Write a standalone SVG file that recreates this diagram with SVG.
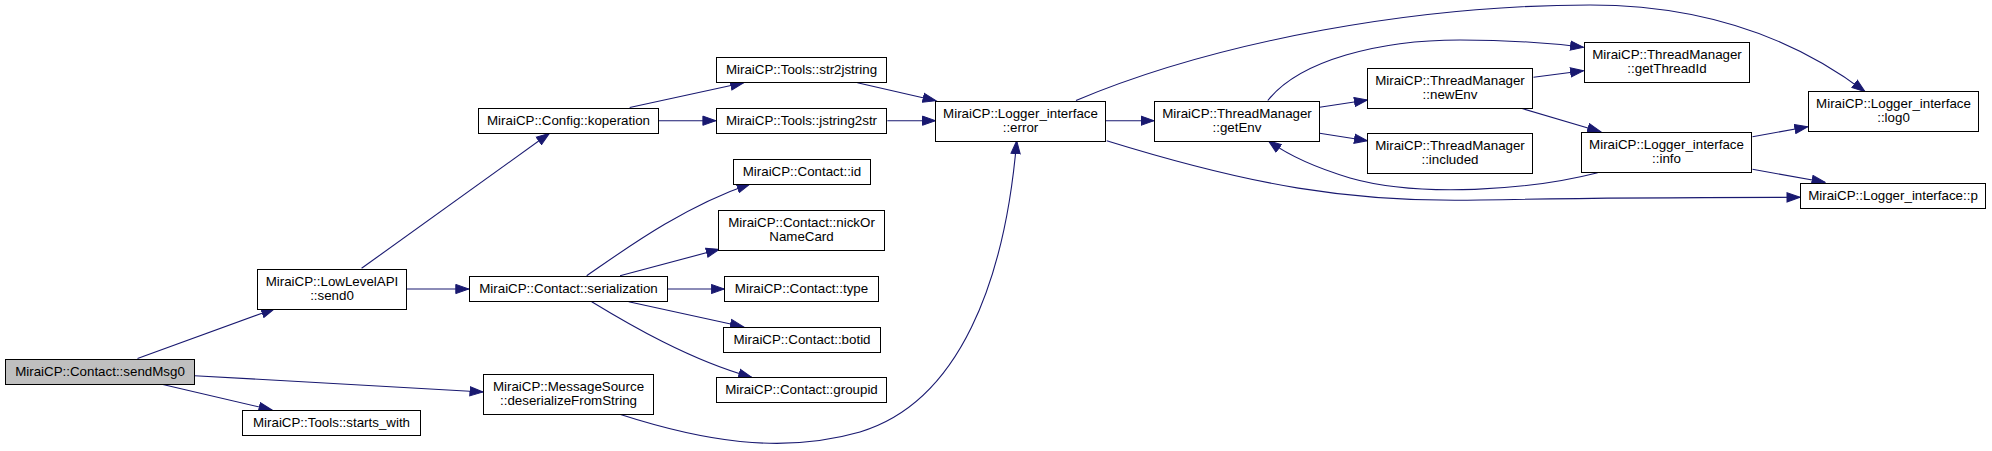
<svg xmlns="http://www.w3.org/2000/svg" width="1992" height="451" viewBox="0 0 1992 451">
<defs>
<style>
.n rect{fill:#ffffff;stroke:#000000;stroke-width:1}
.n.root rect{fill:#bfbfbf}
.n text{font-family:"Liberation Sans",Arial,Helvetica,sans-serif;font-size:13.33px;fill:#000000;text-anchor:middle}
.e path{fill:none;stroke:#191970;stroke-width:1.1;marker-end:url(#ah)}
</style>
<marker id="ah" markerUnits="userSpaceOnUse" markerWidth="15" markerHeight="11" refX="13.5" refY="5" orient="auto" viewBox="0 0 15 10">
<path d="M0.5,0.4 L13.5,5 L0.5,9.6 z" fill="#191970" stroke="#191970" stroke-width="1"/>
</marker>
</defs>
<rect x="0" y="0" width="1992" height="451" fill="#ffffff"/>
<g id="edges" class="e">
<path d="M137.5,358.5 L274.5,308.7"/>
<path d="M194.6,375.7 L483,392"/>
<path d="M160.7,384 L272,410"/>
<path d="M361.6,268.3 L549.4,133.3"/>
<path d="M406,289 L468.8,289"/>
<path d="M629.7,107.5 L743.6,82.7"/>
<path d="M658.8,120.7 L715.9,120.7"/>
<path d="M857.4,82.7 L936,100.7"/>
<path d="M887.3,120.7 L935.5,120.7"/>
<path d="M586.7,275.7 C620,253 680,208 750,184"/>
<path d="M620,275.7 L719.3,249.3"/>
<path d="M668,289 L724.3,289"/>
<path d="M628.7,301.7 L743.3,326.7"/>
<path d="M591.7,301.7 C630,325 690,360 751.7,377.3"/>
<path d="M620.5,414.5 C700,440 780,455 860,432 C960,402 1005,280 1016.7,140.7"/>
<path d="M1106,120.7 L1154,120.7"/>
<path d="M1076,100.5 C1220,40 1420,5 1590,5 C1700,5 1790,35 1865,91.7"/>
<path d="M1106.7,140.7 C1250,185 1350,203 1480,200 C1600,197.5 1700,197.5 1800,197.3"/>
<path d="M1319.6,107.3 L1367.4,100"/>
<path d="M1267.8,100.5 C1300,60 1380,40 1460,40 C1510,40 1550,43 1583.5,47.3"/>
<path d="M1319.6,133.3 L1367.4,140.7"/>
<path d="M1533.5,77.3 L1583.5,70.7"/>
<path d="M1518,107.3 L1600.6,131.7"/>
<path d="M1597.7,172.7 C1530,190 1420,198 1350,178 C1310,166 1285,153 1268.3,140.7"/>
<path d="M1752.5,136.7 L1807.8,126.7"/>
<path d="M1752.5,169.3 L1825,182.2"/>
</g>
<g id="n_sendMsg0" class="n root"><rect x="5.5" y="359.5" width="189" height="25"/><text x="100" y="375.5">MiraiCP::Contact::sendMsg0</text></g>
<g id="n_send0" class="n"><rect x="257.5" y="269.5" width="149" height="40"/><text x="332" y="285.5">MiraiCP::LowLevelAPI</text><text x="332" y="300.2">::send0</text></g>
<g id="n_deserialize" class="n"><rect x="483.5" y="374.5" width="170" height="40"/><text x="568.5" y="390.5">MiraiCP::MessageSource</text><text x="568.5" y="405.2">::deserializeFromString</text></g>
<g id="n_starts_with" class="n"><rect x="242.5" y="410.5" width="178" height="25"/><text x="331.5" y="426.5">MiraiCP::Tools::starts_with</text></g>
<g id="n_serialization" class="n"><rect x="469.5" y="276.5" width="198" height="25"/><text x="568.5" y="292.5">MiraiCP::Contact::serialization</text></g>
<g id="n_koperation" class="n"><rect x="478.5" y="108.5" width="180" height="25"/><text x="568.5" y="124.5">MiraiCP::Config::koperation</text></g>
<g id="n_str2jstring" class="n"><rect x="716.5" y="57.5" width="170" height="25"/><text x="801.5" y="73.5">MiraiCP::Tools::str2jstring</text></g>
<g id="n_jstring2str" class="n"><rect x="716.5" y="108.5" width="170" height="25"/><text x="801.5" y="124.5">MiraiCP::Tools::jstring2str</text></g>
<g id="n_error" class="n"><rect x="935.5" y="101.5" width="170" height="40"/><text x="1020.5" y="117.5">MiraiCP::Logger_interface</text><text x="1020.5" y="132.2">::error</text></g>
<g id="n_id" class="n"><rect x="733.5" y="159.5" width="137" height="25"/><text x="802" y="175.5">MiraiCP::Contact::id</text></g>
<g id="n_nick" class="n"><rect x="718.5" y="210.5" width="166" height="40"/><text x="801.5" y="226.5">MiraiCP::Contact::nickOr</text><text x="801.5" y="241.2">NameCard</text></g>
<g id="n_type" class="n"><rect x="724.5" y="276.5" width="154" height="25"/><text x="801.5" y="292.5">MiraiCP::Contact::type</text></g>
<g id="n_botid" class="n"><rect x="723.5" y="327.5" width="157" height="25"/><text x="802" y="343.5">MiraiCP::Contact::botid</text></g>
<g id="n_groupid" class="n"><rect x="716.5" y="377.5" width="170" height="25"/><text x="801.5" y="393.5">MiraiCP::Contact::groupid</text></g>
<g id="n_getEnv" class="n"><rect x="1154.5" y="101.5" width="165" height="40"/><text x="1237" y="117.5">MiraiCP::ThreadManager</text><text x="1237" y="132.2">::getEnv</text></g>
<g id="n_newEnv" class="n"><rect x="1367.5" y="68.5" width="165" height="40"/><text x="1450" y="84.5">MiraiCP::ThreadManager</text><text x="1450" y="99.2">::newEnv</text></g>
<g id="n_getThreadId" class="n"><rect x="1584.5" y="42.5" width="165" height="40"/><text x="1667" y="58.5">MiraiCP::ThreadManager</text><text x="1667" y="73.2">::getThreadId</text></g>
<g id="n_included" class="n"><rect x="1367.5" y="133.5" width="165" height="40"/><text x="1450" y="149.5">MiraiCP::ThreadManager</text><text x="1450" y="164.2">::included</text></g>
<g id="n_info" class="n"><rect x="1581.5" y="132.5" width="170" height="40"/><text x="1666.5" y="148.5">MiraiCP::Logger_interface</text><text x="1666.5" y="163.2">::info</text></g>
<g id="n_log0" class="n"><rect x="1808.5" y="91.5" width="170" height="40"/><text x="1893.5" y="107.5">MiraiCP::Logger_interface</text><text x="1893.5" y="122.2">::log0</text></g>
<g id="n_p" class="n"><rect x="1800.5" y="183.5" width="185" height="25"/><text x="1893" y="199.5">MiraiCP::Logger_interface::p</text></g>
</svg>
